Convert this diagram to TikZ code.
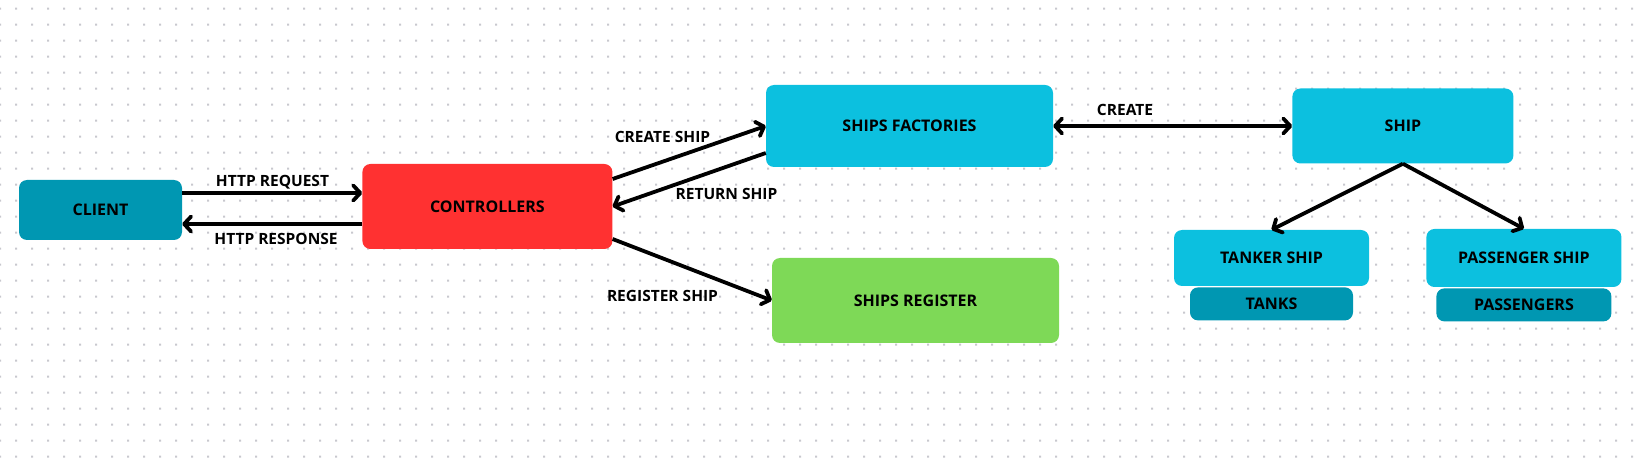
\documentclass[tikz,border=0pt]{standalone}
\usepackage{fontspec}
\setmainfont{Open Sans}
\usetikzlibrary{arrows.meta,positioning}
\definecolor{clientblue}{RGB}{0,151,178}
\definecolor{shipcyan}{RGB}{12,192,223}
\definecolor{ctrlred}{RGB}{255,49,49}
\definecolor{regreen}{RGB}{126,217,87}
\definecolor{dotgrey}{RGB}{200,200,206}

\begin{document}
\begin{tikzpicture}[x=1pt, y=-1pt,
    >={Straight Barb[length=7pt,width=15pt,round]},
    box/.style={rounded corners=8pt, inner sep=0pt, text depth=0pt, font=\fontsize{16}{19}\selectfont\bfseries},
    lbl/.style={inner sep=0pt, text depth=0pt, font=\fontsize{15.5}{18}\selectfont\bfseries},
    link/.style={line width=3.8pt, ->}]
    \useasboundingbox (0,0) rectangle (1644,470);
    \fill[dotgrey] \foreach \i in {0,...,102} {\foreach \j in {0,...,29} {(\i*16-1,\j*16+7.7) rectangle ++(2,2)}};

    \node[box, fill=clientblue, minimum width=163pt, minimum height=60pt] (client) at (100.5,210) {CLIENT};
    \node[box, fill=ctrlred, minimum width=250pt, minimum height=85pt, right=180pt of client, yshift=3.5pt] (ctrl) {CONTROLLERS};
    \node[box, fill=shipcyan, minimum width=287pt, minimum height=82pt] (factories) at (909.5,126) {SHIPS FACTORIES};
    \node[box, fill=regreen, minimum width=287pt, minimum height=85pt] (register) at (915.5,300.5) {SHIPS REGISTER};
    \node[box, fill=shipcyan, minimum width=221pt, minimum height=75pt, right=239pt of factories] (ship) {SHIP};
    \node[box, fill=shipcyan, minimum width=195pt, minimum height=56pt] (tanker) at (1271.5,258) {TANKER SHIP};
    \node[box, fill=clientblue, minimum width=163pt, minimum height=33pt, below=1pt of tanker] (tanks) {TANKS};
    \node[box, fill=shipcyan, minimum width=195pt, minimum height=58pt, right=57pt of tanker] (passenger) {PASSENGER SHIP};
    \node[box, fill=clientblue, minimum width=175pt, minimum height=33pt, below=1pt of passenger] (passengers) {PASSENGERS};

    \node[lbl] (reqlbl) at (272.5,181) {HTTP REQUEST};
    \node[lbl] (reslbl) at (276,239) {HTTP RESPONSE};
    \node[lbl] (createshiplbl) at (662.5,137) {CREATE SHIP};
    \node[lbl] (returnlbl) at (726.5,194) {RETURN SHIP};
    \node[lbl] (registerlbl) at (662.5,296) {REGISTER SHIP};
    \node[lbl] (createlbl) at (1125,110) {CREATE};

    \draw[link] ([yshift=17pt]client.east) -- ([yshift=13.5pt]ctrl.west);
    \draw[link] ([yshift=-17.5pt]ctrl.west) -- ([yshift=-14pt]client.east);
    \draw[link] ([yshift=27.5pt]ctrl.east) -- (factories.west);
    \draw[link] ([yshift=-27pt]factories.west) -- (ctrl.east);
    \draw[link] ([yshift=-32.5pt]ctrl.east) -- (register.west);
    \draw[link, <->] (factories.east) -- (ship.west);
    \draw[link] (ship.south) -- (tanker.north);
    \draw[link] (ship.south) -- (passenger.north);
\end{tikzpicture}
\end{document}
